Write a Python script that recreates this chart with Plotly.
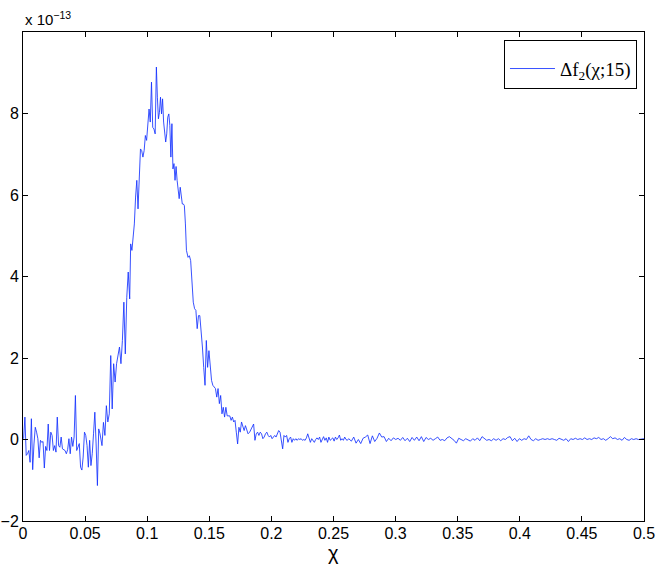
import numpy as np
import plotly.graph_objects as go

# ---- data (values in units of 1e-13) ----
# segment A: x from 0.0005 to 0.0620
seg_a_x = (0.0005, 0.0620)
seg_a_y = [0.02, 0.55, -0.39, -0.35, -0.27, -0.56, 0.51, -0.74, -0.11, 0.30,
           0.18, 0.02, -0.45, -0.02, -0.07, -0.05, -0.70, -0.17, -0.27, 0.38,
           -0.27, 0.18, 0.10, -0.27, -0.15, -0.31, 0.55, -0.15, -0.19, 0.06,
           -0.23, -0.25, -0.27, -0.35, -0.25, 0.02, -0.35, 0.06, -0.17, 0.06,
           1.08, -0.27, -0.15, -0.10, -0.68, -0.75, -0.43, 0.18, 0.10, -0.15,
           -0.68, -0.02, -0.64, -0.35, 0.14, 0.67, -0.11, -1.13, 0.26, 0.14]
# segment B: rise
seg_b_x = (0.0636, 0.0859)
seg_b_y = [-0.15, 0.42, 0.10, 0.83, 0.43, 0.63, 2.06, 0.75, 1.86, 1.41,
           1.86, 2.06, 2.27, 1.86, 2.43, 3.37, 2.10, 3.49, 4.11, 3.45]
# segment C1: up to the peak
seg_c1_x = (0.0867, 0.1074)
seg_c1_y = [4.80, 4.64, 4.95, 5.29, 5.95, 6.36, 5.66, 6.27, 7.13, 7.09,
            6.93, 7.09, 7.46, 7.34, 7.71, 8.11, 7.79, 8.77, 7.66, 7.62,
            7.50, 9.14]
# segment C2: after the peak
seg_c2_x = (0.1082, 0.1316)
seg_c2_y = [8.40, 7.87, 8.03, 8.40, 7.99, 8.36, 7.79, 7.58, 7.30, 7.50,
            7.91, 7.99, 7.71, 6.93, 7.75, 6.64, 6.77, 6.36, 6.70, 6.36,
            6.19, 5.91, 6.19, 5.87, 5.78, 5.78, 5.74, 5.29, 4.64]
# segment D: decay
seg_d_x = (0.1329, 0.1812)
seg_d_y = [4.47, 4.51, 4.39, 3.82, 3.37, 3.21, 3.17, 2.72, 3.04, 3.04,
           2.51, 2.27, 1.77, 1.33, 2.43, 1.77, 2.18, 1.69, 1.45, 1.33,
           1.28, 1.25, 1.04, 1.25, 0.88, 1.08, 0.63, 0.79, 0.55, 0.79,
           0.58, 0.58, 0.58, 0.47, 0.55, 0.43, 0.47, 0.18, -0.11, 0.30,
           0.18, 0.43, 0.34, 0.22, 0.34, 0.26, 0.14]
# segment E
seg_e_x = (0.1825, 0.2622)
seg_e_y = [0.18, 0.26, 0.30, 0.38, -0.02, 0.14, 0.18, 0.10, 0.18, 0.14,
           0.02, 0.06, 0.14, 0.18, 0.10, 0.06, 0.10, 0.02, 0.06, 0.10,
           0.06, 0.14, 0.22, 0.18, -0.02, -0.23, 0.10, 0.06, 0.10, -0.07,
           0.02, 0.06, -0.07, 0.02, -0.02, 0.02, -0.02, 0.02, 0.00, 0.02,
           -0.02, 0.00, -0.02, 0.04, 0.14, 0.02, -0.07, 0.02, -0.04, -0.07,
           0.00, 0.04, 0.00, 0.06, -0.07, 0.02, 0.07, -0.02, 0.04, -0.07,
           0.06, -0.02, 0.02, 0.04, -0.04, 0.06, 0.00, 0.04, 0.11, -0.02,
           0.02, -0.02, 0.06, 0.00, -0.02, 0.02]
# segment F: tail
seg_f_x = (0.2644, 0.4955)
seg_f_y = [-0.04, 0.06, -0.09, 0.00, -0.10, 0.03, 0.06, 0.11, -0.10, 0.09,
           -0.05, 0.03, 0.16, 0.06, 0.07, -0.05, 0.03, -0.03, 0.04, 0.00,
           0.03, -0.02, 0.05, -0.03, 0.03, -0.05, 0.05, -0.02, 0.06, -0.03,
           0.07, -0.05, 0.05, 0.00, 0.03, -0.02, 0.02, 0.06, -0.02, 0.00,
           -0.03, 0.04, 0.07, 0.03, -0.02, -0.09, 0.03, 0.00, -0.03, 0.02,
           -0.02, -0.04, 0.02, -0.02, 0.04, -0.03, 0.07, 0.03, -0.02, 0.00,
           -0.03, 0.02, -0.02, 0.02, -0.03, 0.02, 0.00, 0.05, 0.07, -0.03,
           0.03, -0.05, 0.02, -0.02, 0.02, 0.00, 0.09, 0.00, -0.03, 0.02,
           -0.02, 0.00, 0.02, 0.00, 0.02, 0.00, 0.02, 0.00, -0.02, 0.03,
           0.00, -0.02, 0.02, -0.05, 0.02, 0.00, 0.03, 0.00, 0.02, 0.00,
           0.04, 0.00, 0.02, 0.00, 0.04, 0.02, 0.05, 0.00, 0.02, -0.02,
           0.02, 0.07, 0.02, 0.04, 0.00, 0.02, -0.02, 0.05, 0.00, -0.02,
           0.02, 0.00, 0.02, 0.00]
seg_end_x = [0.5]
seg_end_y = [0.02]

x_ticks = [0, 0.05, 0.1, 0.15, 0.2, 0.25, 0.3, 0.35, 0.4, 0.45, 0.5]
x_ticktext = ["0", "0.05", "0.1", "0.15", "0.2", "0.25", "0.3", "0.35", "0.4", "0.45", "0.5"]
y_ticks = [-2, 0, 2, 4, 6, 8]
y_ticktext = ["\u22122", "0", "2", "4", "6", "8"]

segments = [(seg_a_x, seg_a_y), (seg_b_x, seg_b_y), (seg_c1_x, seg_c1_y),
            (seg_c2_x, seg_c2_y), (seg_d_x, seg_d_y), (seg_e_x, seg_e_y),
            (seg_f_x, seg_f_y)]
xs, ys = [], []
for (x0, x1), vals in segments:
    xs.extend(np.linspace(x0, x1, len(vals)).tolist())
    ys.extend(vals)
xs.extend(seg_end_x)
ys.extend(seg_end_y)

SANS = "Liberation Sans"
SERIF = "Liberation Serif"

fig = go.Figure()
fig.add_trace(go.Scatter(x=xs, y=ys, mode="lines",
                         line=dict(color="rgb(20,50,255)", width=0.85),
                         name="\u0394f<sub>2</sub>(\u03c7;15)"))

axis_common = dict(showline=True, linecolor="black", linewidth=1, mirror="ticks",
                   ticks="inside", ticklen=5, tickcolor="black", tickwidth=1,
                   showgrid=False, zeroline=False, automargin=False,
                   tickfont=dict(family=SANS, size=16, color="black"))

fig.update_layout(
    width=660, height=566,
    margin=dict(l=23, r=16, t=32, b=45),
    paper_bgcolor="white", plot_bgcolor="white",
    showlegend=True,
    legend=dict(x=0.9887, xanchor="right", y=0.9845, yanchor="top",
                bordercolor="black", borderwidth=1, bgcolor="white",
                itemwidth=45,
                title=dict(text="&nbsp;", font=dict(size=7)),
                font=dict(family=SERIF, size=19, color="black")),
    xaxis=dict(range=[0, 0.5], tickvals=x_ticks, ticktext=x_ticktext,
               ticklabelstandoff=-2, **axis_common),
    yaxis=dict(range=[-2, 10], tickvals=y_ticks, ticktext=y_ticktext, **axis_common),
    annotations=[
        dict(text="x 10<sup>\u221213</sup>", xref="paper", yref="paper",
             x=0, y=1, xanchor="left", yanchor="bottom", yshift=2, showarrow=False,
             font=dict(family=SANS, size=15, color="black")),
        dict(text="\u03c7", xref="paper", yref="paper",
             x=0.5, y=0, xanchor="center", yanchor="top", yshift=-19, showarrow=False,
             font=dict(family=SANS, size=20, color="black")),
    ],
)

fig.write_html("out.html", config={"displayModeBar": False},
               post_script="document.body.style.margin='0';document.body.style.overflow='hidden';")
